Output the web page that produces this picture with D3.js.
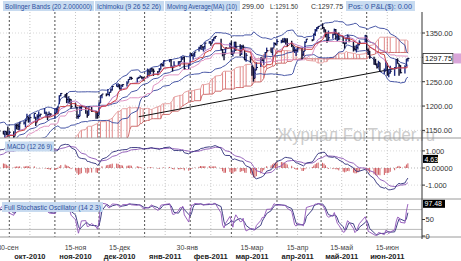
<!DOCTYPE html>
<html><head><meta charset="utf-8">
<script src="https://cdn.jsdelivr.net/npm/d3@7/dist/d3.min.js"></script>
<style>html,body{margin:0;padding:0;background:#fff;overflow:hidden}svg{display:block;font-family:"Liberation Sans",Arial,sans-serif}</style>
</head><body><svg id="chart" width="461" height="261"></svg>
<script>
// ---------- DATA ----------
const dates = [
"2010-07-23","2010-07-26","2010-07-27","2010-07-28","2010-07-29","2010-07-30",
"2010-08-02","2010-08-03","2010-08-04","2010-08-05","2010-08-06","2010-08-09","2010-08-10","2010-08-11","2010-08-12","2010-08-13","2010-08-16","2010-08-17","2010-08-18","2010-08-19","2010-08-20","2010-08-23","2010-08-24","2010-08-25","2010-08-26","2010-08-27","2010-08-30","2010-08-31",
"2010-09-01","2010-09-02","2010-09-03","2010-09-07","2010-09-08","2010-09-09","2010-09-10","2010-09-13","2010-09-14","2010-09-15","2010-09-16","2010-09-17","2010-09-20","2010-09-21","2010-09-22","2010-09-23","2010-09-24","2010-09-27","2010-09-28","2010-09-29","2010-09-30",
"2010-10-01","2010-10-04","2010-10-05","2010-10-06","2010-10-07","2010-10-08","2010-10-11","2010-10-12","2010-10-13","2010-10-14","2010-10-15","2010-10-18","2010-10-19","2010-10-20","2010-10-21","2010-10-22","2010-10-25","2010-10-26","2010-10-27","2010-10-28","2010-10-29",
"2010-11-01","2010-11-02","2010-11-03","2010-11-04","2010-11-05","2010-11-08","2010-11-09","2010-11-10","2010-11-11","2010-11-12","2010-11-15","2010-11-16","2010-11-17","2010-11-18","2010-11-19","2010-11-22","2010-11-23","2010-11-24","2010-11-26","2010-11-29","2010-11-30",
"2010-12-01","2010-12-02","2010-12-03","2010-12-06","2010-12-07","2010-12-08","2010-12-09","2010-12-10","2010-12-13","2010-12-14","2010-12-15","2010-12-16","2010-12-17","2010-12-20","2010-12-21","2010-12-22","2010-12-23","2010-12-27","2010-12-28","2010-12-29","2010-12-30","2010-12-31",
"2011-01-03","2011-01-04","2011-01-05","2011-01-06","2011-01-07","2011-01-10","2011-01-11","2011-01-12","2011-01-13","2011-01-14","2011-01-18","2011-01-19","2011-01-20","2011-01-21","2011-01-24","2011-01-25","2011-01-26","2011-01-27","2011-01-28","2011-01-31",
"2011-02-01","2011-02-02","2011-02-03","2011-02-04","2011-02-07","2011-02-08","2011-02-09","2011-02-10","2011-02-11","2011-02-14","2011-02-15","2011-02-16","2011-02-17","2011-02-18","2011-02-22","2011-02-23","2011-02-24","2011-02-25","2011-02-28",
"2011-03-01","2011-03-02","2011-03-03","2011-03-04","2011-03-07","2011-03-08","2011-03-09","2011-03-10","2011-03-11","2011-03-14","2011-03-15","2011-03-16","2011-03-17","2011-03-18","2011-03-21","2011-03-22","2011-03-23","2011-03-24","2011-03-25","2011-03-28","2011-03-29","2011-03-30","2011-03-31",
"2011-04-01","2011-04-04","2011-04-05","2011-04-06","2011-04-07","2011-04-08","2011-04-11","2011-04-12","2011-04-13","2011-04-14","2011-04-15","2011-04-18","2011-04-19","2011-04-20","2011-04-21","2011-04-25","2011-04-26","2011-04-27","2011-04-28","2011-04-29",
"2011-05-02","2011-05-03","2011-05-04","2011-05-05","2011-05-06","2011-05-09","2011-05-10","2011-05-11","2011-05-12","2011-05-13","2011-05-16","2011-05-17","2011-05-18","2011-05-19","2011-05-20","2011-05-23","2011-05-24","2011-05-25","2011-05-26","2011-05-27","2011-05-31",
"2011-06-01","2011-06-02","2011-06-03","2011-06-06","2011-06-07","2011-06-08","2011-06-09","2011-06-10","2011-06-13","2011-06-14","2011-06-15","2011-06-16","2011-06-17","2011-06-20","2011-06-21","2011-06-22","2011-06-23","2011-06-24","2011-06-27","2011-06-28","2011-06-29"
];
const closes = [
1102.7,1115.0,1113.8,1106.1,1101.5,1101.6,
1125.9,1120.5,1127.2,1125.8,1121.6,1127.8,1121.1,1089.5,1083.6,1079.3,1079.4,1092.5,1094.2,1075.6,1071.7,1067.4,1051.9,1055.3,1047.2,1064.6,1048.9,1049.3,
1080.3,1090.1,1104.5,1091.8,1098.9,1104.2,1109.6,1121.9,1121.1,1125.1,1124.7,1125.6,1142.7,1139.8,1134.3,1124.8,1148.7,1142.2,1147.7,1144.7,1141.2,
1146.2,1137.0,1160.8,1160.0,1158.1,1165.2,1165.3,1169.8,1178.1,1173.8,1176.2,1184.7,1165.9,1178.2,1180.3,1183.1,1185.6,1185.6,1182.5,1183.8,1183.3,
1184.4,1193.6,1198.0,1221.1,1225.9,1223.3,1213.4,1218.7,1213.5,1199.2,1197.8,1178.3,1178.6,1196.7,1199.7,1197.8,1180.7,1198.4,1189.4,1187.8,1180.6,
1206.1,1221.5,1224.7,1223.1,1223.8,1228.3,1233.0,1240.4,1240.5,1241.6,1235.2,1242.9,1243.9,1247.1,1254.6,1258.8,1256.8,1257.5,1258.5,1259.8,1257.9,1257.6,
1271.9,1270.2,1276.6,1273.9,1271.5,1269.8,1274.5,1286.0,1283.8,1293.2,1295.0,1281.9,1280.3,1283.4,1290.8,1291.2,1296.6,1299.5,1276.3,1286.1,
1307.6,1304.0,1307.1,1310.9,1319.1,1324.6,1320.9,1321.9,1329.2,1332.3,1328.0,1336.3,1340.4,1343.0,1315.4,1307.4,1306.1,1319.9,1327.2,
1306.3,1308.4,1331.0,1321.2,1310.1,1321.8,1320.0,1295.1,1304.3,1296.4,1281.9,1256.9,1273.7,1279.2,1298.4,1293.8,1297.5,1309.7,1313.8,1310.2,1319.4,1328.3,1325.8,
1332.4,1332.9,1332.6,1335.5,1333.5,1328.2,1324.5,1314.2,1314.4,1314.5,1319.7,1305.1,1312.6,1330.4,1337.4,1335.3,1347.2,1355.7,1360.5,1363.6,
1361.2,1356.6,1347.3,1335.1,1340.2,1346.3,1357.2,1342.1,1348.7,1337.8,1329.5,1329.0,1340.7,1343.6,1333.3,1317.4,1316.3,1320.5,1325.7,1331.1,1345.2,
1314.6,1312.9,1300.2,1286.2,1284.9,1279.6,1289.0,1271.0,1271.8,1287.9,1265.4,1267.6,1271.5,1278.4,1295.5,1287.1,1283.5,1268.5,1280.1,1296.7,1297.75
];
const highs = [
1103,1115,1120,1114,1120,1106,
1128,1126,1129,1126,1123,1129,1127,1107,1086,1086,1082,1101,1100,1093,1075,1081,1060,1059,1061,1066,1065,1055,
1082,1090,1105,1103,1103,1111,1110,1124,1127,1126,1126,1131,1144,1148,1144,1134,1149,1149,1150,1148,1158,
1150,1148,1162,1163,1164,1167,1169,1173,1184,1178,1182,1185,1178,1183,1189,1184,1196,1189,1183,1189,1185,
1195,1196,1199,1222,1227,1224,1227,1219,1216,1214,1207,1198,1183,1200,1200,1199,1191,1199,1198,1190,1188,
1208,1222,1225,1226,1235,1229,1236,1241,1246,1247,1245,1243,1245,1251,1255,1260,1260,1258,1260,1263,1261,1260,
1277,1275,1277,1278,1277,1272,1278,1287,1287,1294,1296,1296,1282,1292,1292,1292,1302,1302,1302,1287,
1308,1308,1308,1311,1322,1325,1324,1322,1331,1333,1332,1337,1341,1344,1338,1317,1311,1320,1330,
1333,1314,1332,1332,1327,1325,1326,1315,1309,1302,1283,1280,1277,1290,1300,1299,1299,1311,1320,1320,1320,1331,1330,
1338,1336,1339,1340,1339,1339,1334,1324,1322,1316,1321,1319,1313,1333,1338,1337,1349,1358,1362,1364,
1370,1362,1357,1349,1355,1349,1359,1358,1350,1351,1344,1330,1342,1347,1343,1333,1324,1326,1329,1335,1346,
1345,1318,1313,1301,1297,1288,1293,1289,1277,1293,1288,1275,1283,1280,1296,1298,1287,1284,1284,1297,1299
];
const lows = [
1087,1103,1109,1103,1094,1088,
1107,1116,1119,1118,1106,1120,1112,1088,1076,1078,1070,1080,1086,1071,1063,1067,1047,1040,1046,1039,1048,1040,
1050,1078,1091,1090,1092,1103,1101,1109,1115,1114,1118,1122,1126,1132,1131,1121,1131,1142,1130,1140,1136,
1140,1132,1139,1152,1151,1150,1162,1156,1171,1166,1166,1174,1159,1167,1171,1178,1184,1177,1171,1177,1179,
1174,1185,1183,1204,1220,1217,1206,1205,1205,1195,1197,1174,1174,1179,1190,1184,1176,1181,1188,1174,1174,
1181,1206,1216,1220,1223,1220,1228,1232,1240,1238,1234,1232,1239,1240,1248,1254,1254,1248,1256,1259,1256,1252,
1258,1262,1265,1270,1262,1263,1270,1275,1281,1281,1290,1279,1271,1281,1283,1281,1291,1295,1274,1276,
1287,1302,1295,1301,1312,1316,1315,1312,1316,1328,1324,1329,1333,1338,1315,1302,1294,1308,1320,
1305,1302,1309,1313,1303,1305,1315,1294,1291,1289,1262,1250,1257,1274,1280,1292,1285,1298,1310,1310,1304,1320,1325,
1327,1329,1330,1330,1326,1322,1321,1312,1309,1303,1310,1295,1303,1313,1331,1333,1335,1344,1353,1358,
1358,1351,1341,1330,1335,1338,1346,1336,1333,1335,1328,1318,1327,1337,1331,1312,1314,1310,1316,1325,1331,
1314,1305,1297,1285,1284,1277,1280,1270,1266,1272,1262,1259,1267,1262,1278,1287,1262,1267,1267,1281,1291.5
];
// trend line drawn on the price panel (two anchor points)
const trendDates = ["2010-12-28","2011-06-22"];
const trendValues = [1178,1278];
// axis / grid categories
const monthStarts = ["2010-10-01","2010-11-01","2010-12-01","2011-01-01","2011-02-01","2011-03-01","2011-04-01","2011-05-01","2011-06-01"];
const midMonths = ["2010-10-15","2010-11-15","2010-12-15","2011-01-15","2011-02-15","2011-03-15","2011-04-15","2011-05-15","2011-06-15"];
const dayLabelDates = ["2010-09-30","2010-11-15","2010-12-15","2011-01-30","2011-03-15","2011-04-15","2011-05-15","2011-06-15"];
const dayLabelTexts = ["30-сен","15-ноя","15-дек","30-янв","15-мар","15-апр","15-май","15-июн"];
const monthLabelTexts = ["окт-2010","ноя-2010","дек-2010","янв-2011","фев-2011","мар-2011","апр-2011","май-2011","июн-2011"];
const priceTicks = [1350,1300,1250,1200,1150];
const macdTickValues = [13,0,-13];
const macdTickLabels = ["1.000","0.00000","-1.000"];
const stochTicks = [50,0];
const stochLevels = [80,20];
const lastMacdHist = 4.63;
const lastStoch = 97.48;
const headerItems = ["Bollinger Bands (20 2.000000)","Ichimoku (9 26 52 26)","Moving Average(MA) (10)"];
const quoteTexts = ["299.00","L:1291.50","C:1297.75"];

// ---------- INDICATORS (standard definitions from the legend) ----------
const parse = d3.timeParse("%Y-%m-%d");
const T = dates.map(parse);
const N = closes.length;
const opens = closes.map((c,i)=> i ? closes[i-1] : c);
function sma(a,n){return a.map((v,i)=>{ if(i<n-1) return null; const s=a.slice(i-n+1,i+1); if(s.some(q=>q==null)) return null; return d3.mean(s);});}
function ema(a,n){const k=2/(n+1);let e=null;return a.map(v=>{ if(v==null) return null; e = e==null? v : v*k+e*(1-k); return e;});}
const hh=(n,i)=> d3.max(highs.slice(i-n+1,i+1));
const ll=(n,i)=> d3.min(lows.slice(i-n+1,i+1));
const bbMid = sma(closes,20);
const bbUp = bbMid.map((m,i)=> m==null?null: m+2*Math.sqrt(d3.mean(closes.slice(i-19,i+1),q=>(q-m)**2)));
const bbLo = bbMid.map((m,i)=> m==null?null: m-2*Math.sqrt(d3.mean(closes.slice(i-19,i+1),q=>(q-m)**2)));
const ma10 = sma(closes,10);
const tenkan = closes.map((_,i)=> i<8?null:(hh(9,i)+ll(9,i))/2);
const kijun = closes.map((_,i)=> i<25?null:(hh(26,i)+ll(26,i))/2);
const spanA = new Array(N).fill(null), spanB = new Array(N).fill(null);
for(let i=0;i+26<N;i++){
  if(kijun[i]!=null) spanA[i+26]=(tenkan[i]+kijun[i])/2;
  if(i>=51) spanB[i+26]=(hh(52,i)+ll(52,i))/2;
}
const e12=ema(closes,12), e26=ema(closes,26);
const macd = closes.map((_,i)=> i<25?null:e12[i]-e26[i]);
const signal = ema(macd,9);
const hist = macd.map((m,i)=> m==null?null:m-signal[i]);
const rawK = closes.map((c,i)=> i<13?null: 100*(c-ll(14,i))/(hh(14,i)-ll(14,i)));
const stK = sma(rawK,2);
const stD = sma(stK,3);

// ---------- SCALES ----------
const x = d3.scaleTime().domain([parse("2010-10-01"), parse("2011-06-01")]).range([9.3, 366.7]);
const yP = d3.scaleLinear().domain([1150,1350]).range([130.4,33]);
const yM = d3.scaleLinear().domain([-19,19]).range([193,143]);
const yS = d3.scaleLinear().domain([0,100]).range([236,203]);
const AX = 422;
const PANEL = {p:[12,138], m:[138,199], s:[199,237]};

const svg = d3.select("#chart");
svg.append("rect").attr("width",461).attr("height",261).attr("fill","#fff");
const defs = svg.append("defs");
Object.entries(PANEL).forEach(([k,[a,b]])=>{
  defs.append("clipPath").attr("id","clip-"+k).append("rect").attr("x",0).attr("y",a).attr("width",AX).attr("height",b-a);
});

// ---------- GRID ----------
const grid = svg.append("g");
grid.selectAll(".vm").data(midMonths.map(parse)).join("line")
  .attr("x1",d=>x(d)).attr("x2",d=>x(d)).attr("y1",12).attr("y2",237)
  .attr("stroke","#b8b8b8").attr("stroke-width",0.8).attr("stroke-dasharray","1,2");
grid.selectAll(".vs").data(monthStarts.map(parse)).join("line")
  .attr("x1",d=>x(d)).attr("x2",d=>x(d)).attr("y1",12).attr("y2",237)
  .attr("stroke","#222").attr("stroke-width",0.8).attr("stroke-dasharray","2,2");
grid.selectAll(".hp").data(priceTicks).join("line")
  .attr("x1",0).attr("x2",AX).attr("y1",d=>yP(d)).attr("y2",d=>yP(d))
  .attr("stroke","#cfcfcf").attr("stroke-width",0.8).attr("stroke-dasharray","1,2");
grid.selectAll(".hm").data(macdTickValues).join("line")
  .attr("x1",0).attr("x2",AX).attr("y1",d=>yM(d)).attr("y2",d=>yM(d))
  .attr("stroke","#cfcfcf").attr("stroke-width",0.8).attr("stroke-dasharray","1,2");
grid.selectAll(".hs").data(stochLevels).join("line")
  .attr("x1",0).attr("x2",AX).attr("y1",d=>yS(d)).attr("y2",d=>yS(d))
  .attr("stroke","#a8a8a8").attr("stroke-width",0.8);

const idx = d3.range(N);
const lineOf = (arr, ys)=> d3.line().defined(i=>arr[i]!=null).x(i=>x(T[i])).y(i=>ys(arr[i]))(idx);

// ---------- PRICE PANEL ----------
const gp = svg.append("g").attr("clip-path","url(#clip-p)");
gp.selectAll(".hatch").data(idx.filter(i=>spanA[i]!=null && spanB[i]!=null && i%2===0)).join("line")
  .attr("x1",i=>x(T[i])).attr("x2",i=>x(T[i])).attr("y1",i=>yP(spanA[i])).attr("y2",i=>yP(spanB[i]))
  .attr("stroke","#d86a6a").attr("stroke-width",0.8);
const cloudDef = idx.filter(i=>spanA[i]!=null && spanB[i]!=null);
gp.append("path").attr("d",d3.line().x(i=>x(T[i])).y(i=>yP(spanA[i]))(cloudDef)).attr("fill","none").attr("stroke","#e39a9a").attr("stroke-width",0.9);
gp.append("path").attr("d",d3.line().x(i=>x(T[i])).y(i=>yP(spanB[i]))(cloudDef)).attr("fill","none").attr("stroke","#c86060").attr("stroke-width",0.9);
[bbUp,bbMid,bbLo].forEach(a=> gp.append("path").attr("d",lineOf(a,yP)).attr("fill","none").attr("stroke","#33449c").attr("stroke-width",0.9));
gp.append("line").attr("x1",x(parse(trendDates[0]))).attr("y1",yP(trendValues[0]))
  .attr("x2",x(parse(trendDates[1]))).attr("y2",yP(trendValues[1])).attr("stroke","#111").attr("stroke-width",1);
const bi = idx.filter(i=>T[i]>=parse("2010-09-20"));
gp.selectAll(".bar").data(bi).join("line")
  .attr("x1",i=>x(T[i])).attr("x2",i=>x(T[i])).attr("y1",i=>yP(highs[i])).attr("y2",i=>yP(lows[i]))
  .attr("stroke",i=>closes[i]>=opens[i]?"#1d2a80":"#0d0d30").attr("stroke-width",1.4);
gp.selectAll(".cl").data(bi).join("line")
  .attr("x1",i=>x(T[i])).attr("x2",i=>x(T[i])+1.6).attr("y1",i=>yP(closes[i])).attr("y2",i=>yP(closes[i]))
  .attr("stroke","#0d0d30").attr("stroke-width",1);
gp.append("path").attr("d",lineOf(ma10,yP)).attr("fill","none").attr("stroke","#b673c4").attr("stroke-width",0.9);
gp.append("path").attr("d",lineOf(kijun,yP)).attr("fill","none").attr("stroke","#dd88bb").attr("stroke-width",0.9);
gp.append("path").attr("d",lineOf(tenkan,yP)).attr("fill","none").attr("stroke","#c83232").attr("stroke-width",0.9);

svg.append("text").attr("x",277).attr("y",141).attr("font-size",18).attr("fill","#cdcdcd")
  .attr("textLength",158).attr("lengthAdjust","spacingAndGlyphs").text("Журнал ForTrader.ru");

// ---------- MACD PANEL ----------
const gm = svg.append("g").attr("clip-path","url(#clip-m)");
gm.append("line").attr("x1",0).attr("x2",AX).attr("y1",yM(0)).attr("y2",yM(0)).attr("stroke","#bbb").attr("stroke-width",0.7).attr("stroke-dasharray","1,2");
gm.selectAll(".h").data(idx.filter(i=>hist[i]!=null)).join("line")
  .attr("x1",i=>x(T[i])).attr("x2",i=>x(T[i])).attr("y1",yM(0)).attr("y2",i=>yM(hist[i]))
  .attr("stroke","#c9484d").attr("stroke-width",0.9);
gm.append("path").attr("d",lineOf(signal,yM)).attr("fill","none").attr("stroke","#8a52b3").attr("stroke-width",0.9);
gm.append("path").attr("d",lineOf(macd,yM)).attr("fill","none").attr("stroke","#2c2c78").attr("stroke-width",0.9);

// ---------- STOCH PANEL ----------
const gs = svg.append("g").attr("clip-path","url(#clip-s)");
gs.append("path").attr("d",lineOf(stD,yS)).attr("fill","none").attr("stroke","#2c2c78").attr("stroke-width",0.9);
gs.append("path").attr("d",lineOf(stK,yS)).attr("fill","none").attr("stroke","#9052b8").attr("stroke-width",0.9);

// ---------- FRAME / AXES ----------
[138,199,237].forEach(yv=> svg.append("line").attr("x1",0).attr("x2",461).attr("y1",yv).attr("y2",yv).attr("stroke","#9a9a9a").attr("stroke-width",1));
svg.append("line").attr("x1",AX).attr("x2",AX).attr("y1",12).attr("y2",239).attr("stroke","#333").attr("stroke-width",1);

function tickLabels(vals, ys, labels){
  const g = svg.append("g");
  g.selectAll("line").data(vals).join("line").attr("x1",AX).attr("x2",AX+3).attr("y1",d=>ys(d)).attr("y2",d=>ys(d)).attr("stroke","#333");
  g.selectAll("text").data(vals).join("text").attr("x",AX+3.5).attr("y",d=>ys(d)+2.8)
    .attr("font-size",7.5).attr("fill","#333").text((d,i)=>labels[i]);
}
tickLabels(priceTicks, yP, priceTicks.map(d3.format(".2f")));
tickLabels(macdTickValues, yM, macdTickLabels);
tickLabels(stochTicks, yS, stochTicks.map(String));

const lastC = closes[N-1];
svg.append("rect").attr("x",423).attr("y",yP(lastC)-5).attr("width",30).attr("height",10).attr("fill","#fff").attr("stroke","#222").attr("stroke-width",0.8);
svg.append("rect").attr("x",453.5).attr("y",yP(lastC)-5).attr("width",8).attr("height",10).attr("fill","#d9a6d9");
svg.append("text").attr("x",425).attr("y",yP(lastC)+2.8).attr("font-size",7.5).attr("fill","#111").text(d3.format(".2f")(lastC));
const mBoxY = yM(lastMacdHist)-3;
svg.append("rect").attr("x",423).attr("y",mBoxY-4).attr("width",15).attr("height",8).attr("fill","#000");
svg.append("text").attr("x",424.5).attr("y",mBoxY+2.6).attr("font-size",7).attr("fill","#fff").text(lastMacdHist.toFixed(2));
svg.append("rect").attr("x",423).attr("y",yS(lastStoch)-4).attr("width",22).attr("height",8).attr("fill","#000");
svg.append("text").attr("x",424.5).attr("y",yS(lastStoch)+2.6).attr("font-size",7).attr("fill","#fff").text(lastStoch.toFixed(2));

svg.selectAll(".dl").data(dayLabelDates).join("text").attr("x",d=>x(parse(d))).attr("y",249.5)
  .attr("text-anchor","middle").attr("font-size",7).attr("fill","#444").text((d,i)=>dayLabelTexts[i]);
svg.selectAll(".ml").data(midMonths).join("text").attr("x",d=>x(parse(d))).attr("y",258.5)
  .attr("text-anchor","middle").attr("font-size",7.5).attr("font-weight","bold").attr("fill","#222").text((d,i)=>monthLabelTexts[i]);

function tag(xp, yp, w, txt, tl, fs){
  svg.append("rect").attr("x",xp).attr("y",yp).attr("width",w).attr("height",10).attr("fill","#c8dbf0");
  svg.append("text").attr("x",xp+2).attr("y",yp+7.6).attr("font-size",fs||6.6).attr("fill","#2b4f9e")
    .attr("textLength",tl).attr("lengthAdjust","spacingAndGlyphs").text(txt);
}
tag(3,1,91,headerItems[0],87);
tag(95,1,69,headerItems[1],64);
tag(165,1,75,headerItems[2],70);
[[242,22],[270,28],[311,32]].forEach(([xp,tl],i)=> svg.append("text").attr("x",xp).attr("y",8.6).attr("font-size",6.8).attr("fill","#333")
  .attr("textLength",tl).attr("lengthAdjust","spacingAndGlyphs").text(quoteTexts[i]));
tag(346,1,69,"Pos: 0 P&L($): 0.00",64);
tag(5,141.5,49,"MACD (12 26 9)",45,7);
tag(2,202,101,"Full Stochastic Oscillator (14 2 3)",97,7);
</script></body></html>
